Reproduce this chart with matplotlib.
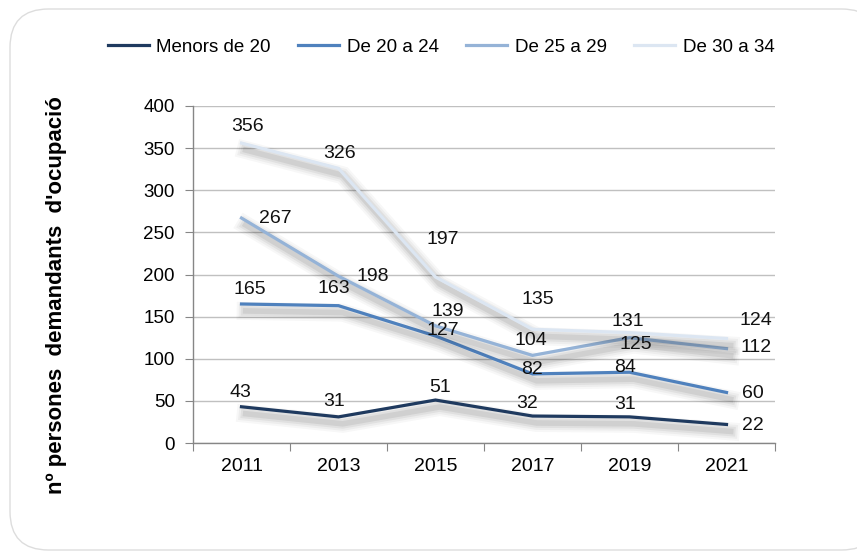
import matplotlib
matplotlib.use("Agg")
import matplotlib.pyplot as plt
import matplotlib.patheffects as pe
from matplotlib.patches import FancyBboxPatch
from matplotlib.lines import Line2D

plt.rcParams['font.family'] = ['Liberation Sans', 'DejaVu Sans']

years = ["2011", "2013", "2015", "2017", "2019", "2021"]
menors_20 = [43, 31, 51, 32, 31, 22]
de_20_24 = [165, 163, 127, 82, 84, 60]
de_25_29 = [267, 198, 139, 104, 125, 112]
de_30_34 = [356, 326, 197, 135, 131, 124]
series_names = ["Menors de 20", "De 20 a 24", "De 25 a 29", "De 30 a 34"]
y_ticks = [0, 50, 100, 150, 200, 250, 300, 350, 400]
y_label = "nº persones  demandants  d'ocupació"

colors = ["#1F3A5F", "#4F81BD", "#95B3D7", "#DCE6F2"]
# label offsets in pixels (dx, dy) for each series / point
label_offsets = [
    [(-1, 14), (-4, 15), (5, 13), (-5, 13), (-4, 12), (26, -1)],
    [(8, 14), (-5, 17), (7, 6), (0, 4), (-4, 5), (26, -1)],
    [(34, 0), (34, 0), (12, 14), (-2, 15), (6, -7), (30, 1)],
    [(6, 17), (1, 15), (7, 38), (5, 30), (-2, 11), (29, 18)],
]

W, H = 857, 551
fig = plt.figure(figsize=(W / 100, H / 100), dpi=100)
fig.patch.set_facecolor("white")

# rounded border
border = FancyBboxPatch((10 / W, 1 - 550 / H), (880 - 10) / W, (550 - 9) / H,
                        boxstyle="round,pad=0,rounding_size=0.045",
                        transform=fig.transFigure, facecolor="white",
                        edgecolor="#DDDDDD", linewidth=1.0, clip_on=False,
                        mutation_aspect=W / H, zorder=-10)
fig.patches.append(border)

ax = fig.add_axes([193 / W, 1 - 443 / H, (775 - 193) / W, (443 - 106) / H])
ax.set_facecolor("none")
ax.set_zorder(1)

x = list(range(len(years)))
all_series = [menors_20, de_20_24, de_25_29, de_30_34]

shadow = [
    pe.SimpleLineShadow(offset=(3, -5), shadow_color="black", alpha=0.03, linewidth=13),
    pe.SimpleLineShadow(offset=(3, -5), shadow_color="black", alpha=0.04, linewidth=10),
    pe.SimpleLineShadow(offset=(3, -5), shadow_color="black", alpha=0.05, linewidth=7),
    pe.SimpleLineShadow(offset=(3, -5), shadow_color="black", alpha=0.07, linewidth=4),
    pe.Normal(),
]

handles = []
for vals, name, c in zip(all_series, series_names, colors):
    ax.plot(x, vals, color=c, lw=2.3, path_effects=shadow,
            solid_joinstyle="miter", zorder=3)
    handles.append(Line2D([], [], color=c, lw=2.3, label=name))

for vals, offs in zip(all_series, label_offsets):
    for xi, v, (dx, dy) in zip(x, vals, offs):
        ax.annotate(str(v), (xi, v), xytext=(dx, dy), textcoords="offset pixels",
                    ha="center", va="center", fontsize=14, color="#111111", zorder=5)

ax.set_xlim(-0.5, len(years) - 0.5)
ax.set_ylim(0, 400)
ax.set_yticks(y_ticks)
ax.set_yticklabels([str(t) for t in y_ticks], fontsize=13.5)
ax.set_xticks([i - 0.5 for i in range(len(years) + 1)])
ax.set_xticklabels([])
ax.set_xticks(x, minor=True)
ax.set_xticklabels(years, minor=True, fontsize=14)
ax.tick_params(axis="x", which="minor", length=0, pad=11)
ax.tick_params(axis="x", which="major", length=6, color="#868686", direction="out")
ax.tick_params(axis="y", length=6, color="#868686", pad=7)
ax.grid(axis="y", color="#C0C0C0", lw=1)
ax.set_axisbelow(True)
for s in ["top", "right"]:
    ax.spines[s].set_visible(False)
for s in ["left", "bottom"]:
    ax.spines[s].set_color("#868686")
    ax.spines[s].set_linewidth(1)

fig.text(57 / W, 1 - 295 / H, y_label, rotation=90, ha="center", va="center",
         fontsize=16, fontweight="bold")

fig.legend(handles=handles, loc="center", bbox_to_anchor=(441 / W, 1 - 47 / H),
           ncol=4, frameon=False, fontsize=13.5, handlelength=2.2,
           handletextpad=0.4, columnspacing=1.45)

fig.savefig("out.png", dpi=100, facecolor="white")
